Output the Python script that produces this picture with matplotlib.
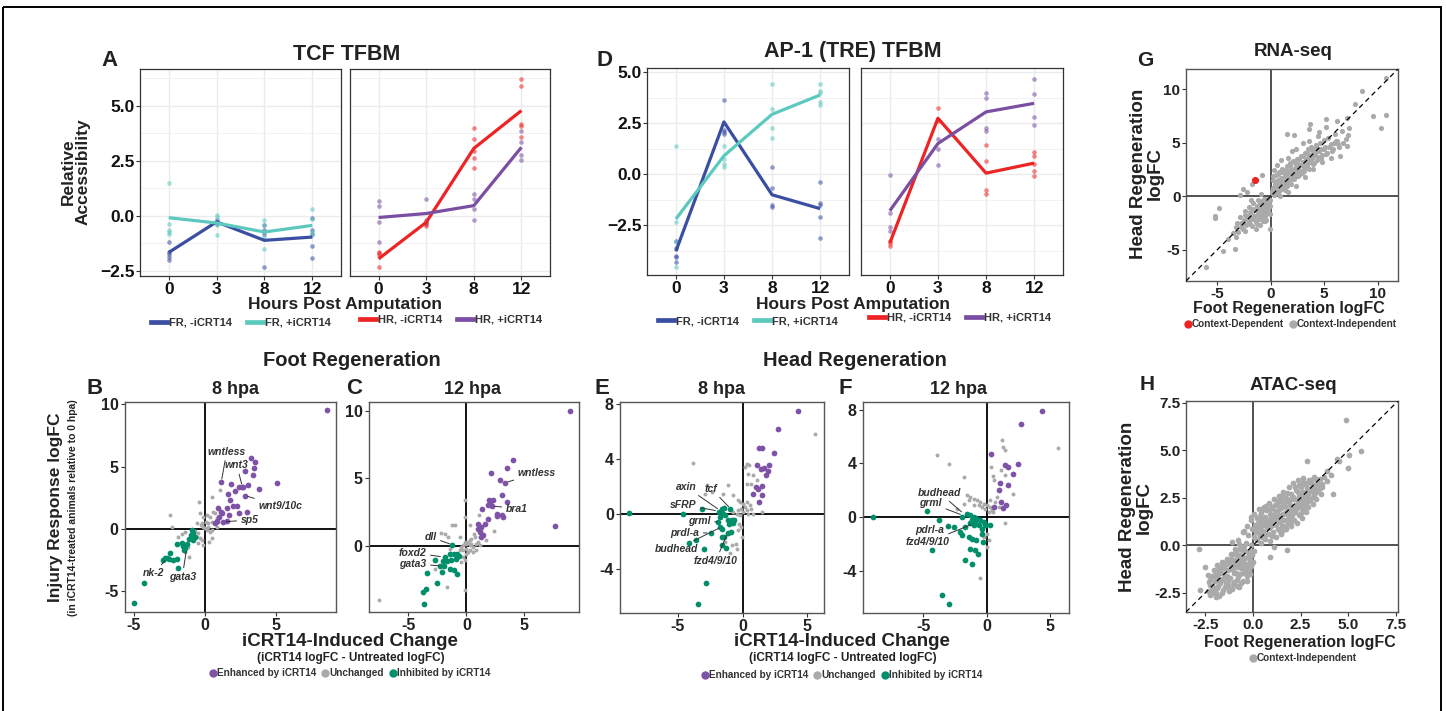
import matplotlib
matplotlib.use('Agg')
import matplotlib.pyplot as plt
from matplotlib.lines import Line2D
from matplotlib.patches import Rectangle

plt.rcParams['font.family'] = ['Liberation Sans', 'DejaVu Sans']
plt.rcParams['font.weight'] = 'bold'
plt.rcParams['axes.unicode_minus'] = False

W, H = 1446, 711
DARK = '#222222'
GREY = '#AAAAAA'
PURPLE = '#7E52A6'
GREEN = '#008F6A'
C_FR_M = '#3A4EA2'
C_FR_P = '#5CC9BF'
C_HR_M = '#EE2424'
C_HR_P = '#7A4FA3'

# ---------------- A / D : motif accessibility over time ----------------
hpa = ['0', '3', '8', '12']

tcf_fr_m_mean = [-1.66, -0.27, -1.11, -0.96]
tcf_fr_p_mean = [-0.08, -0.32, -0.73, -0.43]
tcf_hr_m_mean = [-1.95, -0.29, 3.07, 4.79]
tcf_hr_p_mean = [-0.07, 0.11, 0.47, 3.12]
tcf_fr_m_pts = [[-1.19, -1.66, -1.72, -1.87, -1.98], [-0.20, -0.29, -0.35],
                [-0.43, -0.65, -0.80, -2.33], [-0.09, -0.62, -0.84, -1.37, -1.90]]
tcf_fr_p_pts = [[1.48, -0.35, -0.65, -0.73, -0.80], [0.06, -0.05, -0.43, -0.85],
                [-0.20, -0.43, -0.96, -1.49], [0.30, -0.15, -0.73, -0.85]]
tcf_hr_m_pts = [[-1.62, -1.70, -1.77, -2.30], [-0.29, -0.38, -0.45],
                [3.98, 3.52, 2.97, 2.62, 2.17], [6.23, 5.92, 4.17, 4.09, 3.60]]
tcf_hr_p_pts = [[0.67, 0.47, -0.29, -1.17], [0.76, -0.18, -0.33],
                [1.00, 0.76, 0.30, -0.17], [3.88, 3.38, 2.77, 2.53]]

ap1_fr_m_mean = [-3.78, 2.56, -1.01, -1.69]
ap1_fr_p_mean = [-2.20, 0.90, 2.93, 3.88]
ap1_hr_m_mean = [-3.37, 2.74, 0.05, 0.54]
ap1_hr_p_mean = [-1.79, 1.50, 3.05, 3.47]
ap1_fr_m_pts = [[-3.26, -3.62, -3.99, -4.07, -4.32], [3.62, 2.15, 2.08, 1.95],
                [0.37, -0.68, -1.51, -1.63], [-0.39, -1.43, -1.50, -2.08, -3.14]]
ap1_fr_p_pts = [[1.38, -2.36, -3.34, -4.56], [1.38, 0.73, 0.52, 0.36],
                [4.40, 3.21, 2.28, 1.79], [4.43, 4.07, 3.99, 3.53, 3.37]]
ap1_hr_m_pts = [[-3.26, -3.39, -3.50], [3.26, 2.60],
                [1.42, 0.62, -0.78, -0.98], [1.09, 0.90, 0.52, 0.16, -0.08]]
ap1_hr_p_pts = [[-0.02, -1.90, -2.57, -2.77], [1.74, 1.25, 0.46],
                [3.97, 3.73, 2.28, 2.12], [4.64, 3.94, 2.82, 2.41]]

# ---------------- B, C : foot regeneration, 8 / 12 hpa ----------------
B_enh = [(8.57, 9.52), (3.22, 5.73), (3.54, 5.35), (2.84, 4.68), (3.45, 4.87), (3.40, 4.35),
         (1.15, 3.79), (1.85, 3.60), (5.05, 3.71), (2.42, 3.39), (2.70, 3.39), (3.05, 3.52),
         (3.83, 3.20), (2.11, 3.04), (1.62, 2.77), (2.82, 2.66), (1.76, 2.31), (1.97, 1.85),
         (0.92, 1.69), (1.53, 1.64), (1.67, 1.10), (2.93, 1.37), (2.37, 1.24), (1.10, 1.32),
         (0.99, 0.97), (1.29, 0.56), (0.82, 0.62), (0.73, 0.43), (1.53, 0.62), (1.17, 1.24),
         (2.23, 1.83), (2.63, 3.39)]
B_inh = [(-4.98, -5.97), (-4.27, -4.35), (-2.94, -2.53), (-2.82, -2.34), (-2.46, -1.94),
         (-2.51, -2.47), (-2.23, -2.53), (-1.95, -2.47), (-1.88, -3.15), (-1.99, -1.24),
         (-1.64, -1.13), (-1.53, -1.40), (-1.41, -1.53), (-1.24, -1.24), (-0.99, -0.51),
         (-0.82, -0.91), (-0.70, -0.70), (-0.94, -0.11), (-1.48, -1.72), (-1.10, -0.81),
         (-2.70, -2.39), (-0.87, -0.38)]
B_unc = [(-2.46, 1.10), (-2.35, 0.11), (-1.41, -0.30), (-0.40, 2.18), (0.47, 2.58), (1.06, 3.12),
         (-0.35, 1.24), (-0.12, 0.97), (0.12, 1.10), (0.35, 0.97), (0.59, 1.37), (0.70, 1.24),
         (-0.23, 0.43), (-0.12, 0.16), (0.00, 0.03), (0.12, -0.11), (0.23, 0.16), (0.35, -0.24),
         (0.47, -0.11), (-0.47, -0.38), (-0.59, -0.65), (-0.35, -0.78), (-0.23, -0.91),
         (0.47, -0.78), (-0.12, -1.32), (-0.56, 0.50), (0.23, 0.43), (0.82, 0.16), (0.94, 0.55),
         (0.82, 0.85), (0.47, 0.55), (0.07, 0.55), (-0.30, 0.27), (-1.20, -1.50), (-1.40, -1.90),
         (-1.10, -2.30), (-1.60, -0.45), (-0.70, -0.20), (-1.90, -0.70), (0.30, -1.10),
         (-0.50, -1.15)]
B_genes = [('wntless', (1.15, 3.79), (1.53, 6.21), 'center'),
           ('wnt3', (2.63, 3.39), (2.23, 5.13), 'center'),
           ('wnt9/10c', (2.82, 2.66), (3.76, 1.85), 'left'),
           ('sp5', (1.29, 0.56), (2.51, 0.70), 'left'),
           ('nk-2', (-2.70, -2.39), (-3.59, -3.60), 'center'),
           ('gata3', (-1.29, -1.59), (-1.60, -3.87), 'center')]

C_enh = [(4.02, 6.34), (2.13, 5.42), (3.51, 5.74), (2.90, 4.85), (3.36, 4.68), (3.07, 3.79),
         (3.51, 3.24), (1.90, 3.42), (2.01, 3.12), (2.33, 3.37), (2.21, 2.95), (1.87, 3.00),
         (2.59, 2.38), (2.67, 2.18), (3.10, 2.25), (3.16, 2.13), (1.87, 2.00), (1.38, 2.70),
         (1.64, 1.63), (1.01, 1.58), (1.24, 1.39), (1.15, 1.01), (1.44, 0.77), (1.01, 1.26),
         (1.29, 0.64), (8.90, 10.00), (7.67, 1.46)]
C_inh = [(-1.24, 0.07), (-1.87, -0.84), (-1.44, -0.64), (-1.09, -0.64), (-0.78, -0.59),
         (-0.63, -0.79), (-2.01, -1.14), (-1.64, -1.16), (-1.29, -1.09), (-0.92, -0.97),
         (-2.70, -1.09), (-2.30, -1.53), (-1.95, -1.53), (-2.10, -1.96), (-1.44, -1.76),
         (-1.09, -1.83), (-0.83, -2.08), (-3.42, -2.00), (-2.53, -2.77), (-3.53, -3.24),
         (-3.74, -3.44), (-3.65, -4.31)]
C_unc = [(-7.56, -4.01), (-0.14, 3.37), (-0.14, -3.27), (-0.09, 2.13), (-1.24, 1.51), (-0.95, 1.56),
         (-1.87, 0.89), (-2.21, 0.94), (-1.58, 0.64), (-0.57, 0.64), (0.29, 1.51), (1.07, 2.30),
         (1.29, 1.14), (0.63, 0.89), (0.29, 0.40), (0.14, 0.27), (-0.14, 0.27), (0.00, 0.15),
         (-0.29, 0.02), (0.29, 0.02), (0.43, 0.15), (0.57, -0.10), (0.86, -0.35), (0.29, -0.35),
         (0.00, -0.22), (-0.29, -0.35), (-0.43, -0.10), (-0.57, -0.35), (-0.72, -0.84),
         (-0.29, -0.84), (-0.43, -1.21), (-0.14, -1.09), (0.00, -0.59), (0.14, -0.47),
         (0.57, -0.47), (0.86, 0.15), (1.15, 0.02), (1.01, 0.27), (0.72, 0.64), (0.43, 0.52),
         (-1.72, -3.07), (-2.73, -1.71), (-1.44, -0.22), (2.40, 1.10), (1.70, 0.40)]
C_genes = [('wntless', (3.36, 4.68), (4.42, 5.39), 'left'),
           ('bra1', (2.20, 2.95), (3.39, 2.75), 'left'),
           ('dll', (-1.24, 0.07), (-2.59, 0.64), 'right'),
           ('foxd2', (-2.01, -0.84), (-3.45, -0.52), 'right'),
           ('gata3', (-2.16, -1.51), (-3.45, -1.34), 'right')]

# ---------------- E, F : head regeneration, 8 / 12 hpa ----------------
E_enh = [(4.29, 7.47), (2.70, 6.13), (2.44, 4.44), (1.26, 4.78), (1.52, 4.78), (1.13, 3.52),
         (2.06, 3.52), (1.65, 3.32), (1.44, 3.22), (1.80, 2.79), (1.93, 3.08), (1.54, 2.01),
         (1.03, 1.92), (1.18, 1.77), (0.82, 1.41), (1.54, 1.38), (1.29, 0.85)]
E_inh = [(-8.77, 0.05), (-4.58, 0.00), (-3.11, 0.32), (-1.85, 0.12), (-1.62, 0.36), (-1.44, 0.41),
         (-0.93, 0.32), (-1.54, 0.00), (-1.75, -0.24), (-1.36, -0.12), (-1.11, -0.48),
         (-0.85, -0.48), (-0.67, -0.48), (-1.03, -0.73), (-0.72, -0.68), (-1.88, -0.61),
         (-1.75, -0.97), (-1.62, -1.09), (-2.47, -1.41), (-1.11, -1.41), (-0.90, -1.33),
         (-1.62, -1.70), (-1.41, -1.70), (-3.62, -1.89), (-4.14, -2.11), (-2.96, -2.55),
         (-1.57, -2.30), (-1.31, -2.47), (-2.85, -5.04), (-3.42, -6.55)]
E_unc = [(-3.80, 3.68), (5.58, 5.77), (0.36, 3.64), (0.51, 3.52), (0.18, 3.39), (0.44, 2.91),
         (0.82, 2.79), (1.08, 2.42), (0.69, 2.18), (0.31, 2.18), (-1.11, 2.06), (-2.78, 2.06),
         (-2.90, 1.45), (-2.39, 1.58), (-1.49, 1.45), (-0.72, 1.33), (-0.33, 0.97), (-0.21, 0.85),
         (0.05, 0.73), (0.31, 0.85), (0.57, 0.61), (0.18, 0.48), (-0.08, 0.36), (-0.33, 0.24),
         (0.05, 0.12), (0.31, 0.24), (0.44, 0.00), (-0.21, -0.12), (-0.46, 0.00), (-0.72, 0.12),
         (-0.26, -0.73), (-0.08, -0.97), (-0.33, -1.21), (-0.03, -1.70), (-0.51, -2.18),
         (-0.46, -2.55), (-0.85, -2.30), (-0.98, -2.86), (1.47, 0.12), (0.82, 0.00), (0.69, 0.36),
         (-1.23, -1.45), (-1.36, -2.06)]
E_genes = [('axin', (-1.75, 0.24), (-3.55, 1.94), 'right'),
           ('tcf', (-0.93, 0.36), (-2.90, 1.82), 'left'),
           ('sFRP', (-1.88, 0.19), (-3.55, 0.65), 'right'),
           ('grml', (-1.75, -0.61), (-2.47, -0.56), 'right'),
           ('prdl-a', (-2.52, -1.41), (-3.34, -1.38), 'right'),
           ('budhead', (-1.62, -0.97), (-3.42, -2.59), 'right'),
           ('fzd4/9/10', (-1.16, -1.41), (-2.06, -3.44), 'center')]

F_enh = [(4.32, 7.91), (2.70, 6.92), (0.34, 4.73), (2.43, 3.98), (1.44, 3.86), (1.70, 3.73),
         (2.02, 3.23), (1.05, 2.54), (1.70, 2.36), (0.92, 2.04), (0.58, 0.75), (1.13, 1.12),
         (1.49, 0.92), (1.26, 0.67)]
F_inh = [(-8.98, 0.00), (-4.71, 0.45), (-3.74, -0.20), (-3.09, -0.67), (-2.62, -0.75),
         (-4.32, -2.49), (-3.53, -5.85), (-2.96, -6.47), (-1.96, 0.00), (-1.57, 0.25),
         (-1.31, 0.12), (-1.05, 0.00), (-0.79, -0.12), (-0.92, -0.37), (-1.18, -0.25),
         (-0.52, -0.25), (-0.65, -0.62), (-1.05, -0.62), (-1.31, -0.45), (-0.26, -0.37),
         (-0.13, -0.62), (-0.39, -0.87), (0.26, -0.62), (-1.70, -0.75), (-2.09, -1.12),
         (-1.96, -1.37), (-1.44, -1.49), (-1.18, -1.62), (-0.84, -1.74), (-0.39, -1.24),
         (-0.31, -1.87), (-1.31, -2.36), (-0.92, -2.49), (-0.73, -2.74), (-1.70, -3.18),
         (-1.13, -3.53)]
F_unc = [(-3.93, 4.60), (-3.01, 3.93), (-1.83, 2.99), (1.18, 5.77), (1.26, 5.22), (1.44, 4.98),
         (5.63, 5.15), (0.34, 3.73), (0.45, 3.06), (0.58, 2.74), (1.13, 3.48), (1.44, 3.11),
         (2.09, 1.74), (1.44, -0.45), (-0.52, -4.55), (-1.57, 1.62), (-1.31, 1.49), (-1.05, 1.37),
         (-0.79, 1.24), (-0.52, 1.12), (-0.26, 1.00), (0.00, 0.87), (0.26, 0.75), (0.39, 0.50),
         (0.52, 0.37), (0.13, 0.37), (-0.13, 0.62), (-0.39, 0.75), (-0.65, 0.87), (-1.05, 0.87),
         (-1.44, 1.24), (-1.83, 1.00), (0.26, 1.24), (0.65, 1.12), (0.79, 1.49), (0.92, 0.75),
         (0.05, -1.24), (0.13, -1.74), (0.00, -2.24), (-0.26, -1.49), (-2.36, 0.62)]
F_genes = [('budhead', (-1.83, 0.25), (-3.74, 1.82), 'center'),
           ('grml', (-1.88, 0.12), (-3.53, 1.04), 'right'),
           ('pdrl-a', (-3.01, -0.75), (-3.40, -0.95), 'right'),
           ('fzd4/9/10', (-1.05, -0.50), (-2.90, -1.87), 'right')]

# ---------------- G : RNA-seq foot vs head logFC ----------------
G_dep = [(-1.5, 1.5)]
G_ind = [(-3.5, -3.4), (-3.2, -2.9), (-3.0, -3.3), (-2.8, -2.5), (-2.6, -3.0), (-2.5, -2.2),
         (-2.3, -2.7), (-2.2, -1.8), (-2.0, -2.4), (-1.9, -1.5), (-1.8, -2.1), (-1.7, -2.8),
         (-1.6, -1.2), (-1.5, -1.8), (-1.4, -2.4), (-1.3, -0.9), (-1.2, -1.5), (-1.1, -2.1),
         (-1.0, -0.6), (-1.0, -1.2), (-0.9, -1.8), (-0.8, -0.4), (-0.8, -1.0), (-0.7, -1.5),
         (-0.7, -2.3), (-0.6, -0.2), (-0.6, -0.8), (-0.5, -1.3), (-0.5, -1.9), (-0.4, -0.5),
         (-0.4, -1.0), (-0.3, -0.2), (-0.3, -1.5), (-0.2, -0.7), (-0.2, -1.1), (-0.1, -0.3),
         (-0.1, -0.9), (-2.4, -1.4), (-2.0, -1.0), (-1.6, -0.6), (-1.2, -0.3), (-0.9, 0.2),
         (-1.4, -3.0), (-1.0, -2.7), (-0.4, -2.2), (-0.1, -1.6), (-2.9, -1.9), (-1.8, -0.3),
         (-2.6, 0.7), (-2.9, 0.1), (-4.8, -1.1), (-5.2, -1.8), (-5.2, -2.0), (-6.0, -6.6),
         (-4.4, -5.1), (-3.3, -4.9), (-4.0, -4.0), (-3.2, -3.8), (-2.4, -3.2), (-0.1, -3.0),
         (-0.5, -2.3), (-0.8, 2.0), (-1.7, 1.2), (-2.2, 0.4),
         (-0.15, -0.5), (-0.35, -0.8), (-0.55, -0.5), (-0.75, -1.2), (-0.95, -0.9), (-1.15, -1.7),
         (-1.35, -1.3), (-1.55, -2.1), (-1.75, -1.7), (-1.95, -2.6), (-2.15, -2.1), (-2.35, -1.7),
         (-2.55, -2.5), (-2.75, -2.9), (-3.1, -2.5), (-0.25, -1.3), (-0.65, -1.8), (-1.05, -1.6),
         (-0.45, -1.6), (-0.85, -2.0), (-1.25, -2.6),
         (0.1, 0.3), (0.2, 0.8), (0.2, 1.5), (0.3, 0.1), (0.4, 0.6), (0.4, 1.2), (0.5, 2.0),
         (0.6, 0.3), (0.6, 0.9), (0.7, 1.5), (0.8, 0.5), (0.8, 2.3), (0.9, 1.1), (1.0, 0.7),
         (1.0, 1.7), (1.1, 2.6), (1.2, 1.2), (1.3, 0.6), (1.3, 2.0), (1.4, 1.5), (1.5, 2.8),
         (1.5, 1.0), (1.6, 2.2), (1.7, 1.6), (1.8, 3.1), (1.9, 1.2), (1.9, 2.5), (2.0, 2.0),
         (2.1, 3.3), (2.2, 1.6), (2.3, 2.7), (2.4, 2.2), (2.5, 3.5), (2.6, 1.9), (2.6, 3.0),
         (2.7, 2.5), (2.8, 3.8), (2.9, 2.2), (3.0, 3.2), (3.1, 2.7), (3.2, 4.1), (3.3, 3.5),
         (3.4, 2.9), (3.5, 4.4), (3.6, 3.8), (3.7, 3.2), (3.8, 4.6), (3.9, 3.6), (4.0, 4.0),
         (4.1, 3.1), (4.2, 4.8), (4.3, 4.2), (4.4, 3.7), (4.6, 5.0), (4.7, 4.4), (4.8, 3.9),
         (5.0, 5.3), (5.1, 4.6), (5.3, 4.1), (5.4, 5.5), (5.6, 4.9), (5.8, 4.4), (6.0, 5.8),
         (6.2, 5.2), (6.4, 4.6), (6.7, 6.1), (7.0, 5.4), (7.3, 6.4), (0.3, 2.5), (0.6, 2.9),
         (1.0, 3.4), (1.6, 3.6), (2.0, 4.2), (2.4, 4.4), (3.0, 5.0), (3.6, 5.2), (4.4, 5.6),
         (0.9, 0.0), (1.6, 0.4), (2.4, 1.0), (3.2, 1.8), (4.0, 2.6), (4.8, 3.2), (5.6, 3.6),
         (0.15, 0.55), (0.35, 0.85), (0.55, 1.25), (0.75, 0.75), (0.95, 1.45), (1.15, 0.95),
         (1.35, 1.75), (1.55, 1.3), (1.75, 2.0), (1.95, 1.6), (2.15, 2.4), (2.35, 1.9),
         (2.55, 2.75), (2.75, 2.1), (2.95, 2.9), (3.15, 2.4), (3.35, 3.2), (3.55, 2.6),
         (3.75, 3.5), (3.95, 3.0), (4.15, 3.9), (4.35, 3.4), (4.55, 4.2), (4.75, 3.6),
         (4.95, 4.4), (5.2, 4.0), (5.45, 4.6), (5.7, 4.2), (5.95, 5.0), (6.3, 4.9),
         (0.25, 1.9), (0.65, 2.1), (1.05, 2.3), (1.45, 2.5), (1.85, 2.8), (2.25, 3.1),
         (2.65, 3.5), (3.05, 3.8), (3.45, 4.0), (3.85, 4.3), (4.25, 4.5),
         (10.8, 11.1), (8.5, 9.8), (7.9, 8.6), (9.6, 7.5), (10.8, 7.6), (10.3, 6.4), (7.1, 7.3),
         (6.2, 7.0), (5.2, 7.2), (3.7, 6.8), (3.6, 6.3), (1.5, 5.8), (2.2, 5.7), (6.5, 3.8),
         (7.1, 4.7), (7.2, 5.7), (6.1, 5.2), (5.2, 6.5), (6.8, 5.0), (4.5, 6.0)]

# ---------------- H : ATAC-seq foot vs head logFC ----------------
H_ind = [(-0.45, 0.75), (-0.30, 1.05), (-0.25, 0.55), (-0.10, 1.35), (-0.05, 0.85), (0.05, 0.45),
         (0.05, 1.65), (0.10, 1.10), (0.15, 0.70), (0.20, 1.45), (0.20, 0.30), (0.30, 1.90),
         (0.30, 0.95), (0.35, 0.50), (0.40, 1.30), (0.45, 1.70), (0.45, 0.15), (0.55, 0.75),
         (0.55, 1.10), (0.60, 2.05), (0.65, 1.50), (0.65, 0.35), (0.70, 1.85), (0.75, 0.95),
         (0.80, 0.60), (0.80, 1.30), (0.85, 2.25), (0.90, 1.65), (0.90, 0.25), (0.95, 1.05),
         (1.00, 2.00), (1.05, 0.70), (1.05, 1.40), (1.10, 2.45), (1.15, 1.80), (1.20, 0.45),
         (1.20, 1.10), (1.25, 2.20), (1.30, 1.55), (1.30, 0.85), (1.35, 2.60), (1.40, 1.25),
         (1.45, 1.95), (1.50, 0.60), (1.50, 2.35), (1.55, 1.00), (1.60, 1.65), (1.60, 2.80),
         (1.65, 1.35), (1.70, 2.10), (1.75, 0.85), (1.75, 2.50), (1.80, 1.85), (1.85, 1.15),
         (1.90, 3.05), (1.90, 2.30), (1.95, 1.50), (2.00, 2.70), (2.00, 1.00), (2.05, 2.00),
         (2.10, 3.30), (2.15, 1.35), (2.15, 2.45), (2.20, 1.75), (2.25, 2.90), (2.30, 2.15),
         (2.30, 1.20), (2.35, 3.45), (2.40, 1.60), (2.40, 2.60), (2.45, 2.00), (2.50, 3.10),
         (2.55, 1.45), (2.55, 2.40), (2.60, 3.55), (2.60, 1.85), (2.65, 2.80), (2.70, 2.20),
         (2.75, 3.25), (2.80, 1.75), (2.80, 2.55), (2.85, 3.00), (2.90, 2.05), (2.95, 3.45),
         (3.00, 2.40), (3.05, 2.85), (3.10, 3.25), (3.15, 2.20), (3.20, 2.65), (3.25, 3.05),
         (3.30, 2.45), (3.40, 2.90), (3.45, 3.20), (3.55, 2.70), (3.60, 3.05), (0.25, 1.20),
         (0.50, 1.45), (0.70, 1.15), (0.95, 1.50), (1.15, 1.45), (1.35, 1.90), (1.55, 2.10),
         (1.70, 1.70), (1.95, 2.15), (2.10, 2.55), (2.35, 2.80), (2.50, 2.70), (0.40, 0.90),
         (0.60, 0.55), (0.85, 0.90), (1.00, 1.20), (1.25, 1.30), (1.40, 0.75), (1.65, 1.00),
         (1.85, 1.60), (2.05, 1.60), (2.25, 1.90), (2.45, 2.25), (2.70, 2.50), (2.90, 2.70),
         (3.10, 2.95), (0.10, 0.90), (0.30, 0.65), (0.35, 1.55), (0.50, 1.90), (0.50, 0.45),
         (0.70, 2.10), (0.75, 1.35), (0.90, 1.90), (1.00, 0.50), (1.10, 1.60), (1.15, 2.15),
         (1.30, 2.35), (1.45, 1.60), (1.55, 2.60), (1.60, 0.80), (1.70, 2.35), (1.80, 1.35),
         (1.80, 2.75), (2.00, 1.25), (2.00, 2.45), (2.10, 1.85), (2.20, 3.05), (2.30, 2.40),
         (2.40, 3.20), (2.50, 1.70), (2.60, 2.55), (2.65, 3.35), (2.75, 2.00), (2.85, 3.30),
         (2.95, 2.45), (3.05, 3.45), (3.15, 2.55), (3.30, 2.80), (3.35, 3.30), (3.50, 3.00),
         (0.60, 1.30), (0.85, 1.15), (1.25, 1.75), (1.50, 1.40), (1.95, 1.80), (2.35, 2.05),
         (2.85, 2.30),
         (4.87, 6.60), (5.66, 4.99), (5.04, 4.78), (4.99, 4.09), (4.51, 4.43),
         (4.39, 4.56), (2.83, 4.43), (3.89, 3.91), (4.19, 2.70), (3.63, 3.25), (3.70, 3.60),
         (3.30, 3.50), (3.90, 3.40), (4.10, 3.70), (-0.09, 1.51), (-0.50, 0.70), (0.88, -0.61),
         (1.77, -0.26), (1.10, -0.10), (3.20, 3.60), (3.50, 3.50),
         (-2.35, -2.40), (-2.30, -1.90), (-2.20, -2.55), (-2.15, -1.60), (-2.10, -2.20),
         (-2.05, -1.30), (-2.00, -1.85), (-1.95, -2.50), (-1.90, -1.05), (-1.85, -1.50),
         (-1.80, -2.15), (-1.75, -2.65), (-1.70, -1.25), (-1.65, -1.80), (-1.60, -0.85),
         (-1.55, -2.35), (-1.50, -1.50), (-1.45, -1.05), (-1.40, -2.00), (-1.35, -0.70),
         (-1.30, -1.30), (-1.25, -2.40), (-1.20, -1.70), (-1.15, -0.45), (-1.10, -1.05),
         (-1.05, -2.05), (-1.00, -1.45), (-0.95, -0.20), (-0.90, -0.80), (-0.85, -1.80),
         (-0.80, -1.15), (-0.75, 0.10), (-0.70, -0.50), (-0.70, -2.20), (-0.65, -1.50),
         (-0.60, -0.95), (-0.55, -0.25), (-0.50, -1.85), (-0.45, -1.25), (-0.40, -0.65),
         (-0.35, 0.15), (-0.30, -1.60), (-0.30, -1.00), (-0.25, -0.35), (-0.20, -1.30),
         (-0.15, -0.75), (-0.10, 0.00), (-0.10, -1.10), (-0.05, -0.50), (0.00, -0.85),
         (0.05, -0.30), (-1.95, -1.65), (-1.70, -2.00), (-1.50, -1.20), (-1.35, -1.60),
         (-1.20, -1.00), (-1.05, -1.25), (-0.90, -1.45), (-0.75, -0.85), (-0.60, -1.20),
         (-0.45, -0.95), (-0.55, -0.55), (-1.25, -0.80), (-1.55, -1.75), (-0.85, -0.50),
         (-1.00, -0.75), (-0.35, -1.35), (-0.20, -0.95), (-0.40, -0.30), (-0.65, -0.20),
         (-1.45, -2.20), (-1.10, -2.30), (-0.85, -2.15), (-2.25, -2.10), (-2.05, -2.40),
         (-2.25, -1.80), (-2.15, -2.35), (-2.00, -1.55), (-1.90, -2.25), (-1.80, -1.30),
         (-1.75, -1.80), (-1.60, -2.50), (-1.60, -1.10), (-1.45, -1.75), (-1.40, -0.85),
         (-1.30, -2.15), (-1.20, -1.25), (-1.15, -0.70), (-1.00, -1.90), (-0.95, -1.05),
         (-0.90, -0.35), (-0.80, -1.65), (-0.75, -0.60), (-0.65, -1.00), (-0.60, -2.00),
         (-0.50, -1.45), (-0.50, -0.75), (-0.45, -0.05), (-0.35, -1.10), (-0.30, -1.85),
         (-0.25, -0.60), (-0.15, -1.50), (-0.10, -0.30), (-0.05, -0.90), (-1.65, -1.45),
         (-1.30, -1.85), (-1.05, -0.45),
         (-2.83, -0.17), (-2.48, -1.13), (-2.35, -1.57), (-2.78, -2.35), (-2.25, -2.63),
         (-1.95, -2.70), (-1.10, 0.20), (-0.80, 0.30)]


fig = plt.figure(figsize=(W / 100, H / 100), dpi=100)

# overlay in pixel coordinates for titles, panel letters and frame
ov = fig.add_axes([0, 0, 1, 1])
ov.set_xlim(0, W)
ov.set_ylim(H, 0)
ov.axis('off')
ov.add_patch(Rectangle((3, 7), 1438, 720, fill=False, lw=1.4, ec='black', clip_on=False))


def axes_px(l, t, r, b):
    return fig.add_axes([l / W, 1 - b / H, (r - l) / W, (b - t) / H])


def txt(x, y, s, size, **kw):
    kw.setdefault('ha', 'center')
    kw.setdefault('va', 'center')
    kw.setdefault('color', DARK)
    ov.text(x, y, s, fontsize=size, fontweight='bold', **kw)


def line_panel(ax, groups, ylim, yticks, yminor, show_y):
    xs = [1, 2, 3, 4]
    for mean, pts, col in groups:
        for i, vals in enumerate(pts):
            ax.scatter([xs[i]] * len(vals), vals, s=11, color=col, alpha=0.55, lw=0, zorder=2)
    for mean, pts, col in groups:
        ax.plot(xs, mean, color=col, lw=2.3, zorder=3, solid_capstyle='butt')
    ax.set_xlim(0.4, 4.6)
    ax.set_ylim(*ylim)
    ax.set_xticks(xs)
    ax.set_xticklabels(hpa)
    ax.set_yticks(yticks)
    ax.set_yticklabels(['%.1f' % v if v >= 0 else '\u2212%.1f' % -v for v in yticks])
    ax.set_yticks(yminor, minor=True)
    ax.grid(True, which='major', color='#EBEBEB', lw=1.0)
    ax.grid(True, which='minor', axis='y', color='#F2F2F2', lw=0.7)
    ax.set_axisbelow(True)
    for sp in ax.spines.values():
        sp.set_color('#333333')
        sp.set_linewidth(0.9)
    ax.tick_params(which='major', length=3, width=0.8, color='#333333',
                   labelsize=12.5, labelcolor='#111111', pad=1)
    ax.tick_params(which='minor', length=0)
    if not show_y:
        ax.tick_params(axis='y', length=0, labelleft=False)


def scatter_panel(ax, enh, unc, inh, genes, xlim, ylim, xticks, yticks):
    ax.axhline(0, color='black', lw=1.3, zorder=1)
    ax.axvline(0, color='black', lw=1.3, zorder=1)
    for pts, col, s in [(unc, GREY, 8), (enh, PURPLE, 17), (inh, GREEN, 17)]:
        x, y = zip(*pts)
        ax.scatter(x, y, s=s, color=col, lw=0, zorder=3)
    for name, xy, xyt, ha in genes:
        ax.annotate(name, xy=xy, xytext=xyt, ha=ha, va='center', fontsize=7.5,
                    fontstyle='italic', fontweight='bold', color='#333333', zorder=5,
                    arrowprops=dict(arrowstyle='-', color='#333333', lw=0.7,
                                    shrinkA=1, shrinkB=2))
    ax.set_xlim(*xlim)
    ax.set_ylim(*ylim)
    ax.set_xticks(xticks)
    ax.set_xticklabels([str(v) for v in xticks])
    ax.set_yticks(yticks)
    ax.set_yticklabels([str(v) for v in yticks])
    for sp in ax.spines.values():
        sp.set_color('#555555')
        sp.set_linewidth(1.0)
    ax.tick_params(length=3, width=0.8, color='#333333', labelsize=11.5,
                   labelcolor='#222222', pad=1.5)


def logfc_panel(ax, groups, lim, ticks, ticklabels):
    ax.axhline(0, color='#222222', lw=1.1, zorder=1)
    ax.axvline(0, color='#222222', lw=1.1, zorder=1)
    for pts, col, s in groups:
        x, y = zip(*pts)
        ax.scatter(x, y, s=s, color=col, lw=0, zorder=2)
    ax.axline((0, 0), slope=1, color='black', lw=0.9, ls=(0, (4, 3)), zorder=4)
    ax.set_xlim(*lim)
    ax.set_ylim(*lim)
    ax.set_xticks(ticks)
    ax.set_yticks(ticks)
    ax.set_xticklabels(ticklabels)
    ax.set_yticklabels(ticklabels)
    for sp in ax.spines.values():
        sp.set_color('#555555')
        sp.set_linewidth(1.0)
    ax.tick_params(length=3, width=0.8, color='#333333', labelsize=11,
                   labelcolor='#222222', pad=1)


# ---- A
axA1 = axes_px(140, 69, 341, 276)
axA2 = axes_px(350, 69, 550, 276)
a_lim, a_ticks, a_minor = (-2.73, 6.68), [-2.5, 0, 2.5, 5.0], [-1.25, 1.25, 3.75, 6.25]
line_panel(axA1, [(tcf_fr_m_mean, tcf_fr_m_pts, C_FR_M), (tcf_fr_p_mean, tcf_fr_p_pts, C_FR_P)],
           a_lim, a_ticks, a_minor, True)
line_panel(axA2, [(tcf_hr_m_mean, tcf_hr_m_pts, C_HR_M), (tcf_hr_p_mean, tcf_hr_p_pts, C_HR_P)],
           a_lim, a_ticks, a_minor, False)

# ---- D
axD1 = axes_px(647, 68, 849, 275)
axD2 = axes_px(861, 68, 1063, 275)
d_lim, d_ticks, d_minor = (-4.94, 5.2), [-2.5, 0, 2.5, 5.0], [-3.75, -1.25, 1.25, 3.75]
line_panel(axD1, [(ap1_fr_m_mean, ap1_fr_m_pts, C_FR_M), (ap1_fr_p_mean, ap1_fr_p_pts, C_FR_P)],
           d_lim, d_ticks, d_minor, True)
line_panel(axD2, [(ap1_hr_m_mean, ap1_hr_m_pts, C_HR_M), (ap1_hr_p_mean, ap1_hr_p_pts, C_HR_P)],
           d_lim, d_ticks, d_minor, False)

# ---- B, C, E, F
axB = axes_px(125, 402, 336, 612)
scatter_panel(axB, B_enh, B_unc, B_inh, B_genes, (-5.63, 9.22), (-6.7, 10.2), [-5, 0, 5], [-5, 0, 5, 10])
axC = axes_px(369, 402, 579, 612)
scatter_panel(axC, C_enh, C_unc, C_inh, C_genes, (-8.4, 9.7), (-4.93, 10.67), [-5, 0, 5], [0, 5, 10])
axE = axes_px(620, 402, 824, 613)
scatter_panel(axE, E_enh, E_unc, E_inh, E_genes, (-9.46, 6.29), (-7.23, 8.12), [-5, 0, 5], [-4, 0, 4, 8])
axF = axes_px(863, 402, 1069, 613)
scatter_panel(axF, F_enh, F_unc, F_inh, F_genes, (-9.74, 6.46), (-7.16, 8.58), [-5, 0, 5], [-4, 0, 4, 8])

# ---- G, H
axG = axes_px(1186, 69, 1398, 281)
logfc_panel(axG, [(G_ind, GREY, 14), (G_dep, '#EE2222', 26)], (-7.9, 11.9),
            [-5, 0, 5, 10], ['-5', '0', '5', '10'])
axH = axes_px(1186, 401, 1398, 612)
logfc_panel(axH, [(H_ind, GREY, 17)], (-3.5, 7.6),
            [-2.5, 0, 2.5, 5, 7.5], ['-2.5', '0.0', '2.5', '5.0', '7.5'])

# ---- titles and labels
txt(109, 61, 'A', 16)
txt(347, 54, 'TCF TFBM', 15.5)
txt(605, 61, 'D', 16)
txt(853, 52, 'AP-1 (TRE) TFBM', 15.5)
txt(1145, 61, 'G', 15)
txt(1293, 52, 'RNA-seq', 13.5)
txt(1147, 385, 'H', 15)
txt(1293, 386, 'ATAC-seq', 13.5)
txt(352, 361, 'Foot Regeneration', 14.5)
txt(855, 361, 'Head Regeneration', 14.5)
for letter, lx, sub, sx in [('B', 95, '8 hpa', 236), ('C', 354, '12 hpa', 472),
                            ('E', 602, '8 hpa', 721), ('F', 845, '12 hpa', 958)]:
    txt(lx, 388, letter, 16)
    txt(sx, 390, sub, 13)

txt(345, 305, 'Hours Post Amputation', 12.5)
txt(853, 304, 'Hours Post Amputation', 12.5)
txt(76, 172, 'Relative\nAccessibility', 12.5, rotation=90, linespacing=1.0)
txt(1147, 174, 'Head Regeneration\nlogFC', 13.5, rotation=90, linespacing=1.0)
txt(1136, 507, 'Head Regeneration\nlogFC', 13.5, rotation=90, linespacing=1.0)
txt(1289, 309, 'Foot Regeneration logFC', 11.5)
txt(1300, 642, 'Foot Regeneration logFC', 11.5)
txt(56, 507, 'Injury Response logFC', 12.5, rotation=90)
txt(73, 508, '(in iCRT14-treated animals relative to 0 hpa)', 7.5, rotation=90)
for cx in [350, 842]:
    txt(cx, 641, 'iCRT14-Induced Change', 13.5)
    txt(cx + 1, 658, '(iCRT14 logFC - Untreated logFC)', 8.5)

# ---- legends


def line_legend(cx, cy, items):
    hs = [Line2D([], [], color=c, lw=3.4) for c, _ in items]
    leg = fig.legend(hs, [t for _, t in items], loc='center', ncol=len(items),
                     bbox_to_anchor=(cx / W, 1 - cy / H), frameon=False,
                     prop=dict(weight='bold', size=8),
                     handlelength=1.45, handletextpad=0.2, columnspacing=1.3,
                     borderpad=0, borderaxespad=0)
    for t in leg.get_texts():
        t.set_color('#333333')


def dot_legend(cx, cy, items):
    hs = [Line2D([], [], color=c, marker='o', ls='', markersize=5) for c, _ in items]
    leg = fig.legend(hs, [t for _, t in items], loc='center', ncol=len(items),
                     bbox_to_anchor=(cx / W, 1 - cy / H), frameon=False,
                     prop=dict(weight='bold', size=7.2),
                     handlelength=0.6, handletextpad=0.1, columnspacing=0.6,
                     borderpad=0, borderaxespad=0)
    for t in leg.get_texts():
        t.set_color('#333333')


line_legend(241, 323, [(C_FR_M, 'FR, -iCRT14'), (C_FR_P, 'FR, +iCRT14')])
line_legend(451, 320, [(C_HR_M, 'HR, -iCRT14'), (C_HR_P, 'HR, +iCRT14')])
line_legend(748, 321, [(C_FR_M, 'FR, -iCRT14'), (C_FR_P, 'FR, +iCRT14')])
line_legend(960, 318, [(C_HR_M, 'HR, -iCRT14'), (C_HR_P, 'HR, +iCRT14')])
dot_legend(1291, 324, [('#EE2222', 'Context-Dependent'), (GREY, 'Context-Independent')])
dot_legend(1303, 658, [(GREY, 'Context-Independent')])
trio = [(PURPLE, 'Enhanced by iCRT14'), (GREY, 'Unchanged'), (GREEN, 'Inhibited by iCRT14')]
dot_legend(350, 673, trio)
dot_legend(842, 675, trio)

fig.savefig('out.png', dpi=100)
